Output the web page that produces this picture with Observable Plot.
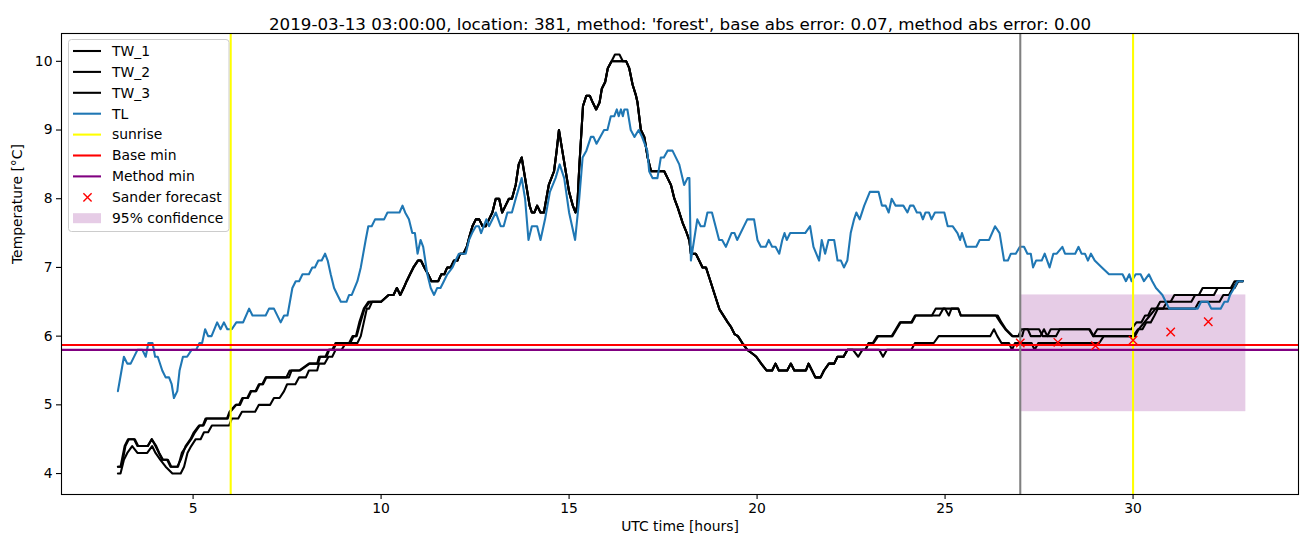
<!DOCTYPE html>
<html>
<head>
<meta charset="utf-8">
<script src="https://cdn.jsdelivr.net/npm/d3@7"></script>
<script src="https://cdn.jsdelivr.net/npm/@observablehq/plot@0.6"></script>
<style>
  body { margin: 0; background: white; }
  #chart { width: 1310px; height: 547px; }
</style>
</head>
<body>
<div id="chart"></div>
<script>
const titleText = "2019-03-13 03:00:00, location: 381, method: 'forest', base abs error: 0.07, method abs error: 0.00";
const xLabel = "UTC time [hours]";
const yLabel = "Temperature [°C]";
const xTicks = [5, 10, 15, 20, 25, 30];
const yTicks = [4, 5, 6, 7, 8, 9, 10];

// TL (air temperature)
const tl = [[3.0,5.2],[3.16,5.7],[3.25,5.6],[3.34,5.6],[3.52,5.8],[3.65,5.8],[3.74,5.7],[3.81,5.9],[3.92,5.9],[3.99,5.7],[4.06,5.7],[4.18,5.5],[4.27,5.4],[4.36,5.4],[4.43,5.3],[4.49,5.1],[4.58,5.2],[4.64,5.5],[4.73,5.7],[4.84,5.7],[4.96,5.8],[5.08,5.8],[5.17,5.9],[5.24,5.9],[5.32,6.1],[5.40,6.0],[5.49,6.0],[5.64,6.2],[5.73,6.1],[5.82,6.2],[5.91,6.1],[6.03,6.1],[6.15,6.2],[6.33,6.2],[6.49,6.4],[6.58,6.3],[6.93,6.3],[7.02,6.4],[7.15,6.4],[7.33,6.2],[7.42,6.3],[7.51,6.3],[7.64,6.7],[7.73,6.8],[7.82,6.8],[7.91,6.9],[8.08,6.9],[8.17,7.0],[8.24,7.0],[8.33,7.1],[8.42,7.1],[8.51,7.2],[8.58,7.1],[8.66,6.9],[8.75,6.7],[8.84,6.6],[8.93,6.5],[9.08,6.5],[9.15,6.6],[9.22,6.6],[9.37,6.8],[9.46,7.0],[9.59,7.4],[9.66,7.6],[9.75,7.6],[9.84,7.7],[10.08,7.7],[10.17,7.8],[10.49,7.8],[10.57,7.9],[10.64,7.8],[10.74,7.7],[10.83,7.5],[10.90,7.5],[10.97,7.2],[11.05,7.4],[11.12,7.3],[11.23,6.9],[11.32,6.7],[11.41,6.6],[11.49,6.7],[11.58,6.7],[11.67,6.8],[11.76,6.9],[11.90,7.0],[11.98,7.1],[12.07,7.2],[12.25,7.2],[12.34,7.4],[12.42,7.5],[12.52,7.6],[12.60,7.6],[12.66,7.5],[12.73,7.6],[12.80,7.7],[12.87,7.6],[13.05,7.8],[13.18,7.6],[13.26,7.6],[13.36,7.8],[13.48,7.8],[13.58,8.0],[13.74,8.3],[13.83,8.0],[13.92,7.4],[14.01,7.6],[14.15,7.6],[14.24,7.4],[14.36,7.7],[14.49,8.1],[14.64,8.3],[14.75,8.5],[14.87,8.3],[15.0,7.8],[15.16,7.4],[15.27,8.0],[15.36,8.6],[15.46,8.7],[15.58,8.9],[15.65,8.9],[15.73,8.8],[15.93,9.0],[16.02,9.0],[16.11,9.2],[16.20,9.2],[16.27,9.3],[16.32,9.2],[16.38,9.3],[16.43,9.2],[16.47,9.3],[16.55,9.3],[16.64,9.0],[16.74,8.9],[16.85,9.0],[16.94,8.9],[17.08,8.7],[17.13,8.4],[17.22,8.3],[17.35,8.3],[17.44,8.6],[17.52,8.6],[17.62,8.7],[17.75,8.7],[17.93,8.5],[18.06,8.2],[18.15,8.3],[18.20,8.3],[18.24,7.1],[18.41,7.7],[18.50,7.6],[18.60,7.6],[18.68,7.8],[18.80,7.8],[18.99,7.4],[19.07,7.4],[19.17,7.3],[19.32,7.5],[19.40,7.5],[19.47,7.4],[19.74,7.7],[19.92,7.7],[20.01,7.4],[20.10,7.3],[20.23,7.3],[20.31,7.4],[20.40,7.3],[20.49,7.3],[20.59,7.2],[20.67,7.4],[20.73,7.5],[20.79,7.4],[20.88,7.5],[21.28,7.5],[21.41,7.6],[21.50,7.3],[21.65,7.1],[21.72,7.4],[21.81,7.2],[21.90,7.4],[22.05,7.4],[22.14,7.1],[22.23,7.1],[22.31,7.0],[22.40,7.1],[22.49,7.5],[22.58,7.7],[22.64,7.8],[22.73,7.7],[22.85,7.9],[23.00,8.1],[23.23,8.1],[23.32,7.9],[23.42,7.9],[23.50,7.8],[23.58,8.0],[23.68,7.9],[23.89,7.9],[24.00,7.8],[24.07,7.9],[24.16,7.9],[24.25,7.8],[24.34,7.8],[24.41,7.7],[24.48,7.8],[24.57,7.8],[24.64,7.7],[24.73,7.8],[24.98,7.8],[25.07,7.6],[25.20,7.6],[25.33,7.5],[25.40,7.4],[25.45,7.5],[25.57,7.3],[25.83,7.3],[25.92,7.4],[26.17,7.4],[26.33,7.6],[26.45,7.5],[26.57,7.1],[26.67,7.1],[26.75,7.2],[26.88,7.2],[26.99,7.3],[27.10,7.3],[27.19,7.2],[27.28,7.2],[27.34,7.0],[27.42,7.1],[27.57,7.1],[27.65,7.2],[27.78,7.0],[27.88,7.2],[27.97,7.2],[28.12,7.3],[28.19,7.2],[28.46,7.2],[28.55,7.3],[28.63,7.2],[28.72,7.2],[28.80,7.1],[28.88,7.2],[28.98,7.1],[29.17,7.0],[29.36,6.9],[29.72,6.9],[29.81,6.8],[29.90,6.9],[29.96,6.8],[30.07,6.9],[30.20,6.9],[30.29,6.8],[30.42,6.9],[30.51,6.8],[30.61,6.7],[30.78,6.6],[30.87,6.5],[30.96,6.4],[31.72,6.4],[31.81,6.5],[31.99,6.5],[32.08,6.4],[32.33,6.4],[32.43,6.5],[32.52,6.5],[32.58,6.6],[32.69,6.7],[32.78,6.8],[32.92,6.8]];

// TW series (early parts)
const tw1Early = [[3.0,4.1],[3.07,4.1],[3.18,4.4],[3.27,4.5],[3.43,4.5],[3.52,4.4],[3.79,4.4],[3.90,4.5],[4.0,4.4],[4.09,4.3],[4.18,4.2],[4.31,4.2],[4.40,4.1],[4.58,4.1],[4.67,4.2],[4.80,4.4],[4.93,4.5],[5.02,4.6],[5.16,4.7],[5.26,4.7],[5.33,4.8],[5.90,4.8],[5.97,4.9],[6.13,5.0],[6.22,5.0],[6.31,5.1],[6.44,5.1],[6.53,5.2],[6.66,5.2],[6.75,5.3],[6.84,5.3],[6.93,5.4],[7.48,5.4],[7.57,5.5],[7.82,5.5],[8.08,5.6],[8.30,5.6],[8.35,5.7],[8.52,5.7],[8.6,5.8],[8.7,5.8],[8.79,5.9],[9.15,5.9],[9.24,6.0],[9.33,6.0],[9.42,6.2],[9.54,6.4],[9.66,6.5],[10.0,6.5]];
const tw2Early = [[3.0,4.1],[3.1,4.1],[3.2,4.4],[3.29,4.5],[3.45,4.5],[3.54,4.4],[3.8,4.4],[3.9,4.5],[4.02,4.4],[4.1,4.3],[4.2,4.2],[4.33,4.2],[4.42,4.1],[4.6,4.1],[4.7,4.3],[4.82,4.4],[4.95,4.5],[5.05,4.6],[5.18,4.7],[5.28,4.7],[5.36,4.8],[5.92,4.8],[5.99,4.9],[6.15,5.0],[6.25,5.0],[6.33,5.1],[6.46,5.1],[6.55,5.2],[6.68,5.2],[6.77,5.3],[6.86,5.3],[6.95,5.4],[7.55,5.4],[7.62,5.5],[7.85,5.5],[8.1,5.6],[8.32,5.6],[8.38,5.7],[8.55,5.7],[8.62,5.8],[8.72,5.8],[8.82,5.9],[9.18,5.9],[9.27,6.0],[9.35,6.0],[9.45,6.2],[9.56,6.4],[9.7,6.5],[10.0,6.5]];
const tw3Early = [[3.0,4.0],[3.07,4.0],[3.16,4.2],[3.25,4.3],[3.38,4.4],[3.52,4.3],[3.78,4.3],[3.91,4.4],[4.0,4.3],[4.13,4.2],[4.27,4.1],[4.45,4.0],[4.67,4.0],[4.76,4.1],[4.85,4.3],[4.95,4.4],[5.07,4.5],[5.20,4.5],[5.29,4.6],[5.40,4.6],[5.50,4.7],[5.96,4.7],[6.03,4.8],[6.20,4.8],[6.30,4.9],[6.65,4.9],[6.75,5.0],[7.05,5.0],[7.15,5.1],[7.30,5.1],[7.42,5.2],[7.50,5.3],[7.72,5.3],[7.82,5.4],[8.0,5.4],[8.08,5.5],[8.30,5.5],[8.35,5.6],[8.50,5.6],[8.60,5.7],[8.70,5.7],[8.79,5.8],[8.95,5.8],[9.06,5.9],[9.37,5.9],[9.46,6.0],[9.54,6.2],[9.62,6.4],[9.68,6.4],[9.76,6.5],[10.0,6.5]];

// TW shared middle section (all three overlap), split around the peak
const twMidA = [[10.2,6.6],[10.33,6.6],[10.42,6.7],[10.51,6.6],[10.6,6.7],[10.68,6.8],[10.77,6.9],[10.86,7.0],[10.98,7.1],[11.06,7.1],[11.15,7.0],[11.25,6.9],[11.34,6.8],[11.52,6.8],[11.60,6.9],[11.68,6.9],[11.76,7.0],[11.85,7.0],[11.94,7.1],[12.03,7.1],[12.10,7.2],[12.19,7.2],[12.28,7.3],[12.35,7.45],[12.43,7.6],[12.52,7.7],[12.61,7.7],[12.70,7.6],[12.78,7.6],[12.87,7.7],[12.96,7.8],[13.05,8.0],[13.14,8.0],[13.22,7.8],[13.31,7.9],[13.40,8.0],[13.48,8.0],[13.58,8.2],[13.66,8.5],[13.74,8.6],[13.80,8.4],[13.89,8.1],[13.95,7.9],[14.01,7.8],[14.08,7.8],[14.15,7.9],[14.24,7.8],[14.33,7.8],[14.46,8.2],[14.60,8.4],[14.67,8.7],[14.73,9.0],[14.82,8.7],[14.91,8.4],[15.0,8.1],[15.10,7.9],[15.17,7.8],[15.22,7.9],[15.27,8.45],[15.37,9.35],[15.46,9.5],[15.55,9.5],[15.63,9.4],[15.72,9.3],[15.81,9.4],[15.87,9.6],[15.96,9.7],[16.03,9.9],[16.13,10.0]];
const tw1Peak = [[16.22,10.1],[16.34,10.1]];
const tw2Peak = [[16.28,10.0]];
const tw3Peak = [[16.30,10.0]];
const twMidB = [[16.43,10.0],[16.52,10.0],[16.60,9.9],[16.69,9.66],[16.78,9.5],[16.82,9.4],[16.91,9.0],[17.0,8.9],[17.09,8.6],[17.18,8.4],[17.53,8.4],[17.62,8.3],[17.71,8.2],[17.80,8.0],[17.89,7.87],[18.02,7.65],[18.11,7.53],[18.20,7.39],[18.24,7.2],[18.37,7.2],[18.46,7.1],[18.55,7.0],[18.64,7.0],[18.73,6.85],[18.87,6.61],[19.0,6.39],[19.14,6.27],[19.22,6.2],[19.31,6.13],[19.40,6.03],[19.49,6.0],[19.62,5.89],[19.74,5.8],[19.89,5.74],[19.98,5.7],[20.11,5.6],[20.25,5.5],[20.40,5.5],[20.49,5.6],[20.58,5.5],[20.80,5.5],[20.90,5.6],[20.99,5.5],[21.30,5.5],[21.37,5.6],[21.46,5.5],[21.55,5.4],[21.69,5.4],[21.78,5.5],[21.91,5.6],[22.05,5.6]];

// TW series (late parts)
const tw1Late = [[22.14,5.7],[22.30,5.7],[22.40,5.8],[22.55,5.8],[22.69,5.7],[22.80,5.8],[22.88,5.8],[22.97,5.9],[23.08,5.9],[23.19,6.0],[23.58,6.0],[23.69,6.1],[23.80,6.2],[24.10,6.2],[24.20,6.3],[24.65,6.3],[24.75,6.4],[25.0,6.4],[25.1,6.3],[25.17,6.4],[25.35,6.4],[25.42,6.3],[26.35,6.3],[26.47,6.2],[26.60,6.1],[26.78,6.0],[26.95,6.0],[27.03,6.1],[27.2,6.1],[27.28,6.0],[27.54,6.0],[27.63,6.1],[27.72,6.0],[27.81,6.1],[28.83,6.1],[28.94,6.0],[29.05,6.1],[29.95,6.1],[30.09,6.2],[30.22,6.2],[30.32,6.3],[30.40,6.3],[30.49,6.4],[30.62,6.4],[30.72,6.5],[31.0,6.5],[31.1,6.6],[31.75,6.6],[31.85,6.7],[32.6,6.7],[32.7,6.8],[32.92,6.8]];
const tw2Late = [[22.14,5.7],[22.30,5.7],[22.40,5.8],[22.88,5.8],[22.97,5.9],[23.10,5.9],[23.22,6.0],[23.60,6.0],[23.71,6.1],[23.82,6.2],[24.12,6.2],[24.22,6.3],[24.85,6.3],[24.95,6.4],[25.35,6.4],[25.42,6.3],[26.40,6.3],[26.50,6.2],[26.62,6.1],[26.80,6.0],[27.05,6.0],[27.10,6.1],[27.5,6.1],[27.6,6.0],[27.95,6.0],[28.05,6.1],[28.85,6.1],[28.95,6.0],[30.05,6.0],[30.15,6.1],[30.3,6.2],[30.45,6.3],[30.6,6.4],[30.8,6.4],[30.9,6.5],[31.55,6.5],[31.65,6.6],[32.15,6.6],[32.25,6.7],[32.7,6.7],[32.8,6.8],[32.92,6.8]];
const tw3Late = [[22.14,5.7],[22.30,5.7],[22.40,5.8],[23.25,5.8],[23.35,5.7],[23.45,5.8],[24.10,5.8],[24.20,5.9],[24.70,5.9],[24.83,6.0],[26.20,6.0],[26.30,6.1],[26.39,6.0],[26.50,5.9],[26.70,5.9],[26.78,5.8],[26.86,5.9],[27.30,5.9],[27.38,5.8],[27.48,5.9],[29.10,5.9],[29.22,6.0],[30.0,6.0],[30.13,6.1],[30.25,6.1],[30.35,6.2],[30.47,6.2],[30.57,6.3],[30.66,6.4],[31.65,6.4],[31.75,6.5],[32.3,6.5],[32.4,6.6],[32.55,6.6],[32.65,6.7],[32.78,6.8],[32.92,6.8]];

const tw1 = [...tw1Early, ...twMidA, ...tw1Peak, ...twMidB, ...tw1Late];
const tw2 = [...tw2Early, ...twMidA, ...tw2Peak, ...twMidB, ...tw2Late];
const tw3 = [...tw3Early, ...twMidA, ...tw3Peak, ...twMidB, ...tw3Late];

const sunriseTimes = [6.0, 30.0];
const nowTime = [27.0];
const baseMin = [5.87];
const methodMin = [5.80];
const forecastT = [27, 28, 29, 30, 31, 32];
const forecastV = [5.90, 5.91, 5.86, 5.94, 6.06, 6.21];
const confT = [27, 33];
const confLow = 4.9;
const confHigh = 6.6;

const forecast = forecastT.map((t, i) => ({t, v: forecastV[i]}));
const conf = [{x1: confT[0], x2: confT[1], y1: confLow, y2: confHigh}];
const xy = {x: d => d[0], y: d => d[1]};

const font = "DejaVu Sans, Liberation Sans, sans-serif";
const LW = 2.08; // 1.5pt at 100 dpi

const chart = Plot.plot({
  width: 1310,
  height: 547,
  marginLeft: 61,
  marginRight: 12,
  marginTop: 33,
  marginBottom: 53,
  style: {fontFamily: font, fontSize: "13.9px", background: "white", color: "black"},
  x: {domain: [1.5, 34.4], label: null},
  y: {domain: [3.695, 10.405], label: null},
  marks: [
    Plot.rect(conf, {x1: "x1", x2: "x2", y1: "y1", y2: "y2", fill: "purple", fillOpacity: 0.2}),
    Plot.line(tw1, {...xy, stroke: "black", strokeWidth: LW}),
    Plot.line(tw2, {...xy, stroke: "black", strokeWidth: LW}),
    Plot.line(tw3, {...xy, stroke: "black", strokeWidth: LW}),
    Plot.line(tl, {...xy, stroke: "#1f77b4", strokeWidth: LW}),
    Plot.ruleX(sunriseTimes, {stroke: "yellow", strokeWidth: LW}),
    Plot.ruleY(baseMin, {stroke: "red", strokeWidth: LW}),
    Plot.ruleY(methodMin, {stroke: "purple", strokeWidth: LW}),
    Plot.ruleX(nowTime, {stroke: "grey", strokeWidth: LW}),
    Plot.dot(forecast, {x: "t", y: "v", symbol: "times", r: 3.9, stroke: "red", strokeWidth: 1.4}),
    Plot.frame({stroke: "black", strokeWidth: 1.1}),
    Plot.axisX({ticks: xTicks, tickSize: 5, tickPadding: 4, label: null, fontSize: 13.9, tickFormat: d => String(d), strokeWidth: 1.1}),
    Plot.axisY({ticks: yTicks, tickSize: 5, tickPadding: 4, label: null, fontSize: 13.9, tickFormat: d => String(d), strokeWidth: 1.1}),
    Plot.text([xLabel], {frameAnchor: "bottom", dy: 36, fontSize: 13.9}),
    Plot.text([yLabel], {frameAnchor: "left", dx: -44, rotate: -90, fontSize: 13.9}),
    Plot.text([titleText], {frameAnchor: "top", dy: -15, fontSize: 16.7})
  ]
});

document.getElementById("chart").appendChild(chart);

// Legend (matplotlib-style, upper left inside axes)
const svg = d3.select(chart);
const legendItems = [
  {label: "TW_1", type: "line", color: "black"},
  {label: "TW_2", type: "line", color: "black"},
  {label: "TW_3", type: "line", color: "black"},
  {label: "TL", type: "line", color: "#1f77b4"},
  {label: "sunrise", type: "line", color: "yellow"},
  {label: "Base min", type: "line", color: "red"},
  {label: "Method min", type: "line", color: "purple"},
  {label: "Sander forecast", type: "x", color: "red"},
  {label: "95% confidence", type: "patch", color: "purple"}
];
const lg = svg.append("g").attr("font-family", font).attr("font-size", "13.9px").attr("text-anchor", "start");
lg.append("rect")
  .attr("x", 68.5).attr("y", 39.5).attr("width", 160.5).attr("height", 192)
  .attr("rx", 3).attr("fill", "white").attr("fill-opacity", 0.8)
  .attr("stroke", "#cccccc").attr("stroke-width", 1);
legendItems.forEach((it, i) => {
  const cy = 51 + i * 20.9;
  if (it.type === "line") {
    lg.append("line").attr("x1", 73).attr("x2", 101).attr("y1", cy).attr("y2", cy)
      .attr("stroke", it.color).attr("stroke-width", LW);
  } else if (it.type === "x") {
    const r = 4.1, cx = 87.5;
    lg.append("path").attr("d", `M${cx - r},${cy - r}L${cx + r},${cy + r}M${cx - r},${cy + r}L${cx + r},${cy - r}`)
      .attr("stroke", it.color).attr("stroke-width", 1.4).attr("fill", "none");
  } else {
    lg.append("rect").attr("x", 73).attr("y", cy - 5).attr("width", 28).attr("height", 10)
      .attr("fill", it.color).attr("fill-opacity", 0.2);
  }
  lg.append("text").attr("x", 112).attr("y", cy).attr("dy", "0.35em")
    .attr("text-anchor", "start").attr("fill", "black").text(it.label);
});
</script>
</body>
</html>
